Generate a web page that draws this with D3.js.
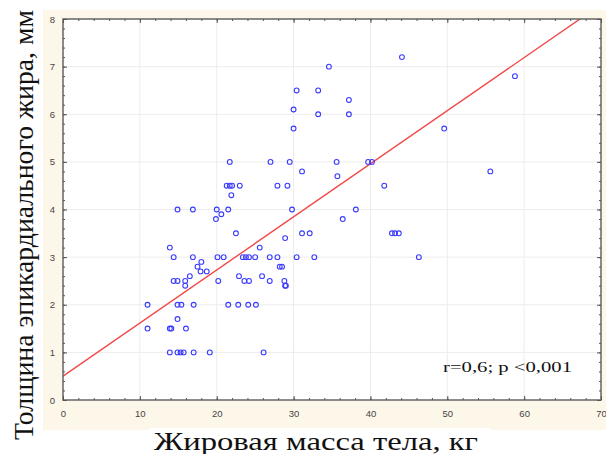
<!DOCTYPE html>
<html>
<head>
<meta charset="utf-8">
<script src="https://cdn.jsdelivr.net/npm/d3@7"></script>
<style>
  body { margin: 0; background: #fff; }
  svg { display: block; }
  .tick text { font-family: "Liberation Sans", Arial, sans-serif; font-size: 9.5px; fill: #444; }
</style>
</head>
<body>
<svg id="chart" width="606" height="454"></svg>
<script>
// =========================
// DATA
// =========================
const fatMass = [
  11.0, 11.0, 13.9, 14.4, 14.9, 16.9, 16.9, 18.0, 17.5, 17.9,
  18.7, 14.4, 14.9, 15.9, 16.5, 15.9, 14.9, 15.4, 17.0, 14.9,
  13.9, 14.1, 16.0, 13.9, 14.9, 15.3, 15.7, 17.0, 19.1, 21.7,
  27.0, 29.5, 31.1, 21.3, 21.7, 22.0, 23.0, 27.9, 29.2, 21.9,
  20.0, 21.5, 20.6, 19.9, 29.8, 22.5, 28.9, 31.1, 32.1, 25.6,
  20.1, 20.9, 23.4, 23.8, 24.2, 25.0, 26.9, 27.9, 30.4, 32.7,
  28.2, 28.5, 22.9, 23.6, 24.2, 25.9, 26.9, 28.8, 28.9, 29.0,
  20.2, 21.5, 22.8, 24.1, 25.1, 26.1, 44.1, 34.6, 30.4, 33.2,
  37.2, 30.0, 33.2, 37.2, 30.0, 35.6, 39.7, 40.2, 35.7, 41.8,
  38.1, 36.4, 42.8, 43.2, 43.7, 46.3, 55.6, 58.8, 49.6
];
const epiFat = [
  2.0, 1.5, 3.2, 3.0, 4.0, 4.0, 3.0, 2.9, 2.8, 2.7,
  2.7, 2.5, 2.5, 2.5, 2.6, 2.4, 2.0, 2.0, 2.0, 1.7,
  1.5, 1.5, 1.5, 1.0, 1.0, 1.0, 1.0, 1.0, 1.0, 5.0,
  5.0, 5.0, 4.8, 4.5, 4.5, 4.5, 4.5, 4.5, 4.5, 4.3,
  4.0, 4.0, 3.9, 3.8, 4.0, 3.5, 3.4, 3.5, 3.5, 3.2,
  3.0, 3.0, 3.0, 3.0, 3.0, 3.0, 3.0, 3.0, 3.0, 3.0,
  2.8, 2.8, 2.6, 2.5, 2.5, 2.6, 2.5, 2.5, 2.4, 2.4,
  2.5, 2.0, 2.0, 2.0, 2.0, 1.0, 7.2, 7.0, 6.5, 6.5,
  6.3, 6.1, 6.0, 6.0, 5.7, 5.0, 5.0, 5.0, 4.7, 4.5,
  4.0, 3.8, 3.5, 3.5, 3.5, 3.0, 4.8, 6.8, 5.7
];
const xTicks = [0, 10, 20, 30, 40, 50, 60, 70];
const yTicks = [0, 1, 2, 3, 4, 5, 6, 7, 8];
// linea di regressione: y = a + b*x
const fitIntercept = 0.5;
const fitSlope = 0.1115;

// =========================
// SETUP
// =========================
const svg = d3.select("#chart");
const plotLeft = 63, plotRight = 601, plotTop = 19, plotBottom = 400;

const x = d3.scaleLinear().domain([0, 70]).range([plotLeft, plotRight]);
const y = d3.scaleLinear().domain([0, 8]).range([plotBottom, plotTop]);

// sfondo crema
svg.append("rect")
  .attr("x", 43).attr("y", 10)
  .attr("width", 563).attr("height", 420)
  .attr("fill", "#fdf7ea");

// riquadro bianco del titolo X
svg.append("rect")
  .attr("x", 150).attr("y", 428)
  .attr("width", 340).attr("height", 26)
  .attr("fill", "#fff");

// area del grafico
svg.append("rect")
  .attr("x", plotLeft).attr("y", plotTop)
  .attr("width", plotRight - plotLeft).attr("height", plotBottom - plotTop)
  .attr("fill", "#fff");

// griglia
svg.append("g")
  .selectAll("line")
  .data(xTicks.slice(1, -1))
  .join("line")
  .attr("x1", d => x(d)).attr("x2", d => x(d))
  .attr("y1", plotTop).attr("y2", plotBottom)
  .attr("stroke", "#ececec");

svg.append("g")
  .selectAll("line")
  .data(yTicks.slice(1, -1))
  .join("line")
  .attr("x1", plotLeft).attr("x2", plotRight)
  .attr("y1", d => y(d)).attr("y2", d => y(d))
  .attr("stroke", "#ececec");

// =========================
// REGRESSIONE
// =========================
svg.append("clipPath").attr("id", "clip")
  .append("rect")
  .attr("x", plotLeft).attr("y", plotTop)
  .attr("width", plotRight - plotLeft).attr("height", plotBottom - plotTop);

const fitLine = d3.line()
  .x(d => x(d))
  .y(d => y(fitIntercept + fitSlope * d));

svg.append("path")
  .datum(x.domain())
  .attr("clip-path", "url(#clip)")
  .attr("d", fitLine)
  .attr("fill", "none")
  .attr("stroke", "#f24848")
  .attr("stroke-width", 1.4);

// =========================
// PUNTI
// =========================
svg.append("g")
  .selectAll("circle")
  .data(fatMass.map((d, i) => [d, epiFat[i]]))
  .join("circle")
  .attr("cx", d => x(d[0]))
  .attr("cy", d => y(d[1]))
  .attr("r", 2.4)
  .attr("fill", "none")
  .attr("stroke", "#3a3aff")
  .attr("stroke-width", 1.1);

// =========================
// CORNICE E TACCHE
// =========================
svg.append("rect")
  .attr("x", plotLeft).attr("y", plotTop)
  .attr("width", plotRight - plotLeft).attr("height", plotBottom - plotTop)
  .attr("fill", "none")
  .attr("stroke", "#666")
  .attr("stroke-width", 1.5);

const xMinor = d3.range(0, 70.1, 2);
const yMinor = d3.range(0, 8.01, 0.2);

function tickGroup(axis, tx, ty) {
  const g = svg.append("g").attr("transform", `translate(${tx},${ty})`).call(axis);
  g.select(".domain").remove();
  g.selectAll(".tick line").attr("stroke", "#555");
  return g;
}

// tacche minori (verso l'interno)
tickGroup(d3.axisTop(x).tickValues(xMinor).tickSize(2).tickFormat(""), 0, plotBottom);
tickGroup(d3.axisBottom(x).tickValues(xMinor).tickSize(2).tickFormat(""), 0, plotTop);
tickGroup(d3.axisRight(y).tickValues(yMinor).tickSize(2).tickFormat(""), plotLeft, 0);
tickGroup(d3.axisLeft(y).tickValues(yMinor).tickSize(2).tickFormat(""), plotRight, 0);

// tacche maggiori
tickGroup(d3.axisTop(x).tickValues(xTicks).tickSize(4).tickFormat(""), 0, plotBottom);
tickGroup(d3.axisBottom(x).tickValues(xTicks).tickSize(4).tickFormat(""), 0, plotTop);
tickGroup(d3.axisRight(y).tickValues(yTicks).tickSize(4).tickFormat(""), plotLeft, 0);
tickGroup(d3.axisLeft(y).tickValues(yTicks).tickSize(4).tickFormat(""), plotRight, 0);

// etichette
tickGroup(d3.axisBottom(x).tickValues(xTicks).tickSize(0).tickPadding(10), 0, plotBottom)
  .selectAll(".tick line").remove();
tickGroup(d3.axisLeft(y).tickValues(yTicks).tickSize(0).tickPadding(8), plotLeft, 0)
  .selectAll(".tick line").remove();

// =========================
// TITOLI
// =========================
const serif = "'Liberation Serif', 'Times New Roman', serif";

svg.append("text")
  .attr("x", 154).attr("y", 450)
  .attr("font-family", serif)
  .attr("font-size", 25)
  .attr("textLength", 324)
  .attr("lengthAdjust", "spacingAndGlyphs")
  .attr("fill", "#111")
  .text("Жировая масса тела, кг");

svg.append("text")
  .attr("transform", "translate(33,440) rotate(-90)")
  .attr("font-family", serif)
  .attr("font-size", 28)
  .attr("textLength", 430)
  .attr("lengthAdjust", "spacingAndGlyphs")
  .attr("fill", "#111")
  .text("Толщина эпикардиального жира, мм");

svg.append("text")
  .attr("x", 443).attr("y", 372)
  .attr("font-family", serif)
  .attr("font-size", 15)
  .attr("textLength", 129)
  .attr("lengthAdjust", "spacingAndGlyphs")
  .attr("fill", "#111")
  .text("r=0,6; p <0,001");
</script>
</body>
</html>
